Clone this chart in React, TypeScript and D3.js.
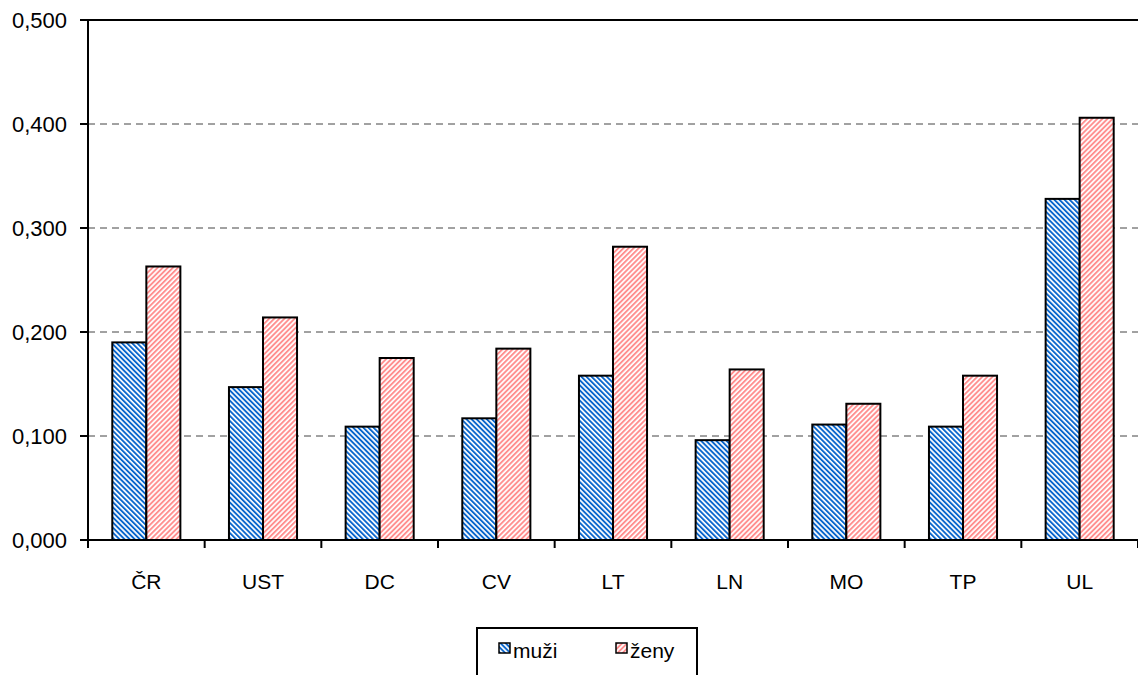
import * as d3 from 'd3';

const categories = ['ČR', 'UST', 'DC', 'CV', 'LT', 'LN', 'MO', 'TP', 'UL'];
const muzi = [0.190, 0.147, 0.109, 0.117, 0.158, 0.096, 0.111, 0.109, 0.328];
const zeny = [0.263, 0.214, 0.175, 0.184, 0.282, 0.164, 0.131, 0.158, 0.406];
const yTicks = [0, 0.1, 0.2, 0.3, 0.4, 0.5];
const seriesNames = ['muži', 'ženy'];

const W = 1138;
const H = 675;
const font = '"Liberation Sans", Arial, sans-serif';

export default function App() {
  const margin = { top: 20, left: 88, bottom: 540, right: 1138 };

  const x = d3.scaleBand<string>().domain(categories).range([margin.left, margin.right]).padding(0);
  const bw = x.bandwidth();
  const pad = 24.3;
  const x1 = d3.scaleBand<string>().domain(seriesNames).range([pad, bw - pad]).padding(0);
  const y = d3.scaleLinear().domain([0, 0.5]).range([margin.bottom, margin.top]);
  const fmt = (v: number) => d3.format('.3f')(v).replace('.', ',');

  const series = [
    { name: 'muži', values: muzi, fill: 'url(#pat-blue)' },
    { name: 'ženy', values: zeny, fill: 'url(#pat-pink)' },
  ];

  const boundaries = d3.range(categories.length + 1).map(i => margin.left + i * bw);

  return (
    <svg width={W} height={H} style={{ position: 'absolute', left: 0, top: 0, background: '#fff' }}>
      <defs>
        <pattern id="pat-blue" width="3.6" height="3.6" patternUnits="userSpaceOnUse" patternTransform="rotate(-45)">
          <rect width="3.6" height="3.6" fill="#fff" />
          <rect width="1.9" height="3.6" fill="#0a66cc" />
        </pattern>
        <pattern id="pat-pink" width="3.6" height="3.6" patternUnits="userSpaceOnUse" patternTransform="rotate(45)">
          <rect width="3.6" height="3.6" fill="#fff" />
          <rect width="1.9" height="3.6" fill="#ff8f8f" />
        </pattern>
      </defs>

      {/* grid lines */}
      {yTicks.filter(t => t > 0 && t < 0.5).map(t => (
        <line key={t} x1={margin.left} x2={margin.right} y1={y(t)} y2={y(t)}
          stroke="#444" strokeWidth={1} strokeDasharray="7,5" />
      ))}
      <line x1={margin.left} x2={margin.right} y1={y(0.5)} y2={y(0.5)} stroke="#000" strokeWidth={2} />

      {/* bars */}
      {categories.map((c, i) => (
        <g key={c} transform={`translate(${x(c)},0)`}>
          {series.map(s => (
            <rect key={s.name} x={x1(s.name)} y={y(s.values[i])} width={x1.bandwidth()}
              height={y(0) - y(s.values[i])} fill={s.fill} stroke="#000" strokeWidth={2} />
          ))}
        </g>
      ))}

      {/* axes */}
      <line x1={margin.left} x2={margin.left} y1={margin.top} y2={margin.bottom} stroke="#000" strokeWidth={2} />
      <line x1={margin.left} x2={margin.right} y1={margin.bottom} y2={margin.bottom} stroke="#000" strokeWidth={2} />
      {yTicks.map(t => (
        <g key={t}>
          <line x1={margin.left - 8} x2={margin.left} y1={y(t)} y2={y(t)} stroke="#000" strokeWidth={2} />
          <text x={67} y={y(t) + 8} textAnchor="end" fontSize={22} fontFamily={font} fill="#000">{fmt(t)}</text>
        </g>
      ))}
      {boundaries.map(b => (
        <line key={b} x1={b} x2={b} y1={margin.bottom} y2={margin.bottom + 8} stroke="#000" strokeWidth={2} />
      ))}
      {categories.map(c => (
        <text key={c} x={(x(c) as number) + bw / 2} y={589} textAnchor="middle" fontSize={21} fontFamily={font} fill="#000">{c}</text>
      ))}

      {/* legend */}
      <rect x={477} y={628} width={220} height={60} fill="#fff" stroke="#000" strokeWidth={2} />
      {series.map((s, i) => (
        <g key={s.name} transform={`translate(${499 + i * 117},643)`}>
          <rect width={11} height={10} fill={s.fill} stroke="#000" strokeWidth={1.5} />
          <text x={14} y={15} fontSize={21} fontFamily={font} fill="#000">{s.name}</text>
        </g>
      ))}
    </svg>
  );
}
